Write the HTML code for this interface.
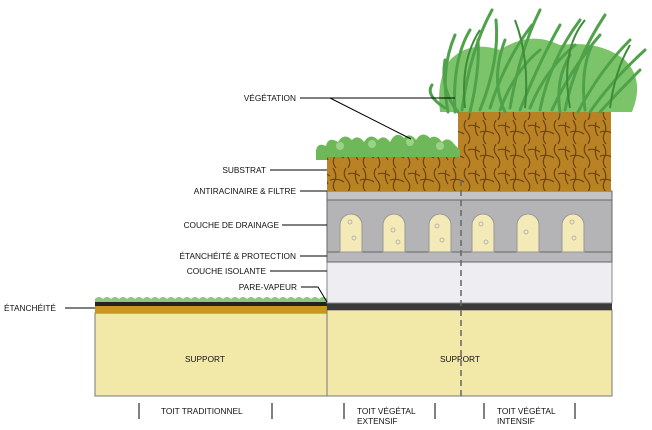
<!DOCTYPE html>
<html><head><meta charset="utf-8"><style>
body{margin:0;background:#fff}
svg{display:block}
text{font-family:"Liberation Sans",sans-serif;font-size:8.3px;fill:#111}
</style></head><body>
<svg width="652" height="430" viewBox="0 0 652 430" xmlns="http://www.w3.org/2000/svg">
<defs>
<pattern id="soil" width="30" height="24" patternUnits="userSpaceOnUse">
<rect width="30" height="24" fill="#b98224"/>
<path d="M3 0 Q8 8 4 14 Q2 20 6 24 M16 0 Q12 6 17 12 Q22 18 18 24 M26 2 Q24 10 28 16 M0 12 Q8 10 14 14 M18 6 Q24 4 30 8" stroke="#6e4410" stroke-width="1.2" fill="none"/>
</pattern>
</defs>
<!-- left roof -->
<rect x="95" y="313" width="232" height="83" fill="#f2e8a8" stroke="#777"/>
<rect x="95" y="305" width="232" height="8" fill="#c9961e"/>
<rect x="95" y="302" width="232" height="4" fill="#222"/>
<path d="M95 302 L95 299 Q99 295 103 299 Q107 295 111 299 Q115 295 119 299 Q123 295 127 299 Q131 295 135 299 Q139 295 143 299 Q147 295 151 299 Q155 295 159 299 Q163 295 167 299 Q171 295 175 299 Q179 295 183 299 Q187 295 191 299 Q195 295 199 299 Q203 295 207 299 Q211 295 215 299 Q219 295 223 299 Q227 295 231 299 Q235 295 239 299 Q243 295 247 299 Q251 295 255 299 Q259 295 263 299 Q267 295 271 299 Q275 295 279 299 Q283 295 287 299 Q291 295 295 299 Q299 295 303 299 Q307 295 311 299 Q315 295 319 299 Q323 295 327 299 L327 302 Z" fill="#8cc77a"/>
<!-- right structure -->
<rect x="327" y="310" width="285" height="86" fill="#f2e8a8" stroke="#777"/>
<rect x="327" y="303" width="285" height="7" fill="#3a3a3a"/>
<rect x="327" y="262" width="285" height="41" fill="#eeeef2" stroke="#888"/>
<rect x="327" y="252" width="285" height="10" fill="#b8b8bc" stroke="#666"/>
<rect x="327" y="200" width="285" height="52" fill="#b4b4b6" stroke="#666"/>
<rect x="327" y="191" width="285" height="9" fill="#c4c4c6" stroke="#666"/>
<g fill="#f3eab8" stroke="#999">
<path d="M340 252 V225 a11 11 0 0 1 22 0 V252Z"/>
<path d="M383 252 V225 a11 11 0 0 1 22 0 V252Z"/>
<path d="M429 252 V225 a11 11 0 0 1 22 0 V252Z"/>
<path d="M472 252 V225 a11 11 0 0 1 22 0 V252Z"/>
<path d="M517 252 V225 a11 11 0 0 1 22 0 V252Z"/>
<path d="M562 252 V225 a11 11 0 0 1 22 0 V252Z"/>
</g>
<g fill="none" stroke="#aaa" stroke-width="0.8">
<circle cx="350" cy="222" r="2"/><circle cx="354" cy="238" r="2"/><circle cx="393" cy="230" r="2"/><circle cx="398" cy="242" r="2"/><circle cx="437" cy="226" r="2"/><circle cx="442" cy="240" r="2"/><circle cx="481" cy="224" r="2"/><circle cx="486" cy="242" r="2"/><circle cx="526" cy="232" r="2"/><circle cx="572" cy="222" r="2"/><circle cx="574" cy="238" r="2"/>
</g>
<!-- soil -->
<rect x="327" y="155" width="135" height="36" fill="url(#soil)"/>
<rect x="458" y="108" width="153" height="83" fill="url(#soil)"/>
<!-- extensive plants -->
<path d="M316 160 L316 150 Q318 142 326 146 Q328 136 338 142 Q344 132 352 140 Q358 134 364 142 Q370 132 378 140 Q384 134 390 142 Q396 130 404 138 Q410 132 416 140 Q422 130 430 138 Q436 134 442 142 Q448 136 454 144 L460 150 L460 157 L327 157 L327 160 Z" fill="#6fb85a"/>
<g fill="#9ad486"><circle cx="340" cy="146" r="4"/><circle cx="372" cy="144" r="4"/><circle cx="410" cy="142" r="4"/><circle cx="440" cy="146" r="4"/></g>
<!-- intensive grass -->
<g fill="#7cc46a">
<path d="M440 112 Q436 80 450 60 Q470 40 500 50 Q530 30 560 45 Q600 40 625 60 Q645 80 632 112 Z"/>
</g>
<g stroke="#4fa24a" stroke-width="3" fill="none" stroke-linecap="round">
<path d="M448 112 Q440 70 455 35"/><path d="M455 112 Q452 60 470 30"/><path d="M462 110 Q470 50 492 10"/>
<path d="M470 112 Q480 70 478 40"/><path d="M480 110 Q500 60 496 20"/><path d="M490 108 Q505 60 532 25"/>
<path d="M500 110 Q515 70 540 50"/><path d="M510 108 Q520 50 540 10"/><path d="M520 110 Q540 60 560 25"/>
<path d="M530 108 Q545 70 575 45"/><path d="M540 110 Q550 60 580 20"/><path d="M552 110 Q570 70 600 35"/>
<path d="M565 110 Q575 60 605 15"/><path d="M578 112 Q600 70 630 40"/><path d="M590 112 Q612 80 645 50"/>
<path d="M600 112 Q620 90 640 70"/><path d="M445 108 Q425 95 432 85"/><path d="M458 112 Q440 90 445 60"/>
<path d="M505 112 Q490 80 505 40"/><path d="M560 112 Q555 80 570 55"/><path d="M585 110 Q580 70 592 45"/>
</g>
<g stroke="#3c8c3a" stroke-width="2" fill="none">
<path d="M465 108 Q460 60 480 30"/><path d="M525 108 Q530 60 515 20"/><path d="M570 108 Q560 50 585 20"/><path d="M610 108 Q615 70 630 45"/>
</g>
<!-- dashed line -->
<line x1="461" y1="180" x2="461" y2="396" stroke="#666" stroke-width="1.5" stroke-dasharray="6,4"/>
<!-- leader lines -->
<g stroke="#000" stroke-width="1">
<line x1="300" y1="98" x2="455" y2="98"/><line x1="330" y1="98" x2="411" y2="139"/>
<line x1="270" y1="170" x2="327" y2="170"/>
<line x1="300" y1="191" x2="327" y2="191"/>
<line x1="282" y1="225" x2="327" y2="225"/>
<line x1="300" y1="256" x2="327" y2="256"/>
<line x1="270" y1="271" x2="327" y2="271"/>
<polyline points="301,287 318,287 327,302" fill="none"/>
<line x1="65" y1="308" x2="95" y2="308"/>
<line x1="139" y1="403" x2="139" y2="419"/><line x1="272" y1="403" x2="272" y2="419"/>
<line x1="344" y1="403" x2="344" y2="419"/><line x1="435" y1="403" x2="435" y2="419"/>
<line x1="484" y1="403" x2="484" y2="419"/><line x1="575" y1="403" x2="575" y2="419"/>
</g>
<g text-anchor="end">
<text x="296" y="101">VÉGÉTATION</text>
<text x="266" y="173">SUBSTRAT</text>
<text x="296" y="194">ANTIRACINAIRE &amp; FILTRE</text>
<text x="279" y="228">COUCHE DE DRAINAGE</text>
<text x="296" y="259">ÉTANCHÉITÉ &amp; PROTECTION</text>
<text x="266" y="274">COUCHE ISOLANTE</text>
<text x="297" y="290">PARE-VAPEUR</text>
</g>
<text x="4" y="311">ÉTANCHÉITÉ</text>
<text x="185" y="362">SUPPORT</text>
<text x="440" y="362">SUPPORT</text>
<text x="161" y="414">TOIT TRADITIONNEL</text>
<text x="357" y="414">TOIT VÉGÉTAL</text>
<text x="357" y="424">EXTENSIF</text>
<text x="497" y="414">TOIT VÉGÉTAL</text>
<text x="497" y="424">INTENSIF</text>
</svg>
</body></html>
